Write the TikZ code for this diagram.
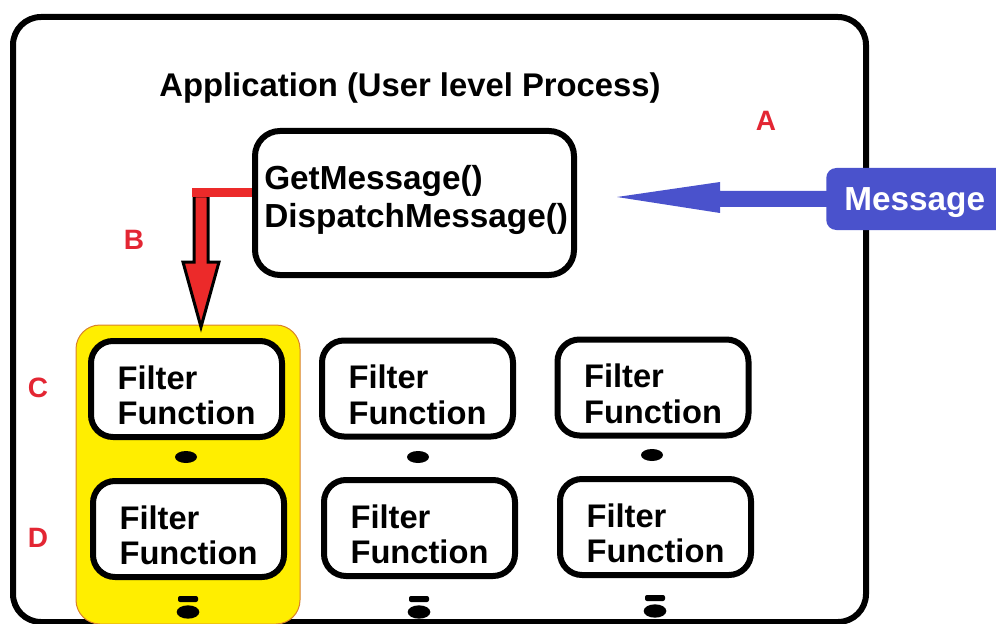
\documentclass[tikz,border=0pt]{standalone}
\usepackage{fontspec}
\setmainfont{Liberation Sans}
\usetikzlibrary{shapes.geometric}
\definecolor{lblred}{HTML}{E32633}
\definecolor{arrred}{HTML}{EC2A2A}
\definecolor{msgblue}{HTML}{4A52CC}
\definecolor{hiyellow}{HTML}{FFEE00}
\definecolor{hiorange}{HTML}{D9822B}
% one drawing unit = 0.75pt
\newcommand{\fftext}{\rule{0pt}{27pt}Filter\\Function}
\tikzset{
  frame/.style={draw=black, line width=4.5pt, rounded corners=21pt},
  funcbox/.style={draw=black, line width=4.5pt, rounded corners=16.5pt, fill=white,
    minimum width=143.25pt, minimum height=72pt, align=left, inner sep=0pt,
    font=\bfseries\fontsize{24.5pt}{26.5pt}\selectfont},
  tag/.style={text=lblred, font=\bfseries\fontsize{21pt}{24pt}\selectfont},
  blob/.style={ellipse, fill=black, minimum width=16.5pt, minimum height=9pt, inner sep=0pt},
  bar/.style={rectangle, rounded corners=1.5pt, fill=black, minimum width=15pt, minimum height=4.5pt, inner sep=0pt},
}
\begin{document}
\begin{tikzpicture}[x=0.75pt, y=-0.75pt]
\useasboundingbox (0,0) rectangle (996,624);

% application frame
\draw[frame] (13,17) rectangle (866,622);
\node (title) at (410,88) {\bfseries\fontsize{24.6pt}{28pt}\selectfont Application (User level Process)};

% highlighted column of filters
\draw[fill=hiyellow, draw=hiorange, line width=0.75pt, rounded corners=18pt] (76,325) rectangle (300,624);

% message loop box
\node[draw=black, line width=4.5pt, rounded corners=18.75pt, minimum width=239.25pt, minimum height=108pt] (loop) at (414.5,203) {};
\node[anchor=west, align=left, inner sep=0pt, font=\bfseries\fontsize{25pt}{28pt}\selectfont] (looptext) at (264,200) {GetMessage()\\DispatchMessage()};

% filter functions
\node[funcbox] (f11) at (186.5,389) {\fftext};
\node[funcbox] (f12) at (417.5,388.5) {\fftext};
\node[funcbox] (f13) at (653,387.5) {\fftext};
\node[funcbox] (f21) at (188.5,529) {\fftext};
\node[funcbox] (f22) at (419.5,528) {\fftext};
\node[funcbox] (f23) at (655.5,527) {\fftext};

% chain links between filters
\node[blob] (l11) at (186,457) {};
\node[blob] (l12) at (418,457) {};
\node[blob] (l13) at (652,455) {};
\node[bar] (e21) at (188,599) {};
\node[blob, minimum width=17pt, minimum height=10pt] (d21) at (188,612) {};
\node[bar] (e22) at (419,599) {};
\node[blob, minimum width=17pt, minimum height=10pt] (d22) at (419,612) {};
\node[bar] (e23) at (655,598) {};
\node[blob, minimum width=17pt, minimum height=10pt] (d23) at (655,611) {};

% incoming message
\node[fill=msgblue, rounded corners=7.5pt, minimum height=46.5pt, minimum width=142.5pt, anchor=west, inner sep=0pt] (msg) at (826,199) {};
\node[anchor=west, text=white, inner sep=0pt, font=\bfseries\fontsize{25pt}{28pt}\selectfont] (msgtext) at (844,203) {Message};
\coordinate (msgtip) at (617,197);
\fill[msgblue] ([shift={(2,-8)}]msg.west) -- (720,191) -- (720,182) -- (msgtip)
  -- (720,213) -- (720,207) -- ([shift={(2,8)}]msg.west) -- cycle;

% dispatch to the first filter
\coordinate (dtip) at (201,327);
\draw[fill=arrred, draw=black, line width=2.25pt, line join=miter]
  (194,196) -- (208,196) -- (208,262) -- (219,262) -- (dtip) -- (183,262) -- (194,262) -- cycle;
\coordinate (bend) at (192,193);
\draw[arrred, line width=6.75pt] ([yshift=7.5pt]loop.west) -- (bend);

% labels
\node[tag] (ta) at (766,121) {A};
\node[tag] (tb) at (134,240) {B};
\node[tag] (tc) at (38,388) {C};
\node[tag] (td) at (38,538) {D};
\end{tikzpicture}
\end{document}
